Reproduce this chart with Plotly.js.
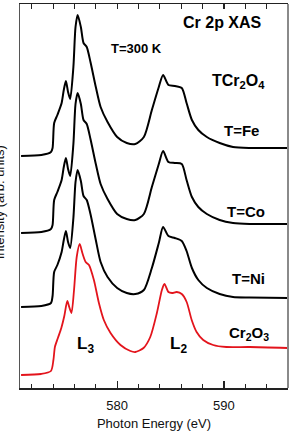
<!DOCTYPE html>
<html>
<head>
<meta charset="utf-8">
<script src="https://cdn.plot.ly/plotly-3.0.1.min.js"></script>
<style>
  html, body { margin: 0; padding: 0; background: #fff; }
  #chart { width: 291px; height: 431px; }
</style>
</head>
<body>
<div id="chart"></div>
<script>
// Photon energy grid (eV) for the TCr2O4 spectra
const energySpinel = [571.0, 572.9, 573.8, 573.95, 574.1, 574.4, 574.8, 575.0, 575.2, 575.4, 575.6, 575.9,
  576.1, 576.3, 576.6, 576.85, 577.15, 577.5, 578.0, 578.45, 579.1, 580.0, 580.9, 581.7, 582.5, 583.25,
  583.9, 584.3, 584.8, 585.4, 586.05, 586.5, 587.0, 587.6, 588.4, 589.6, 590.85, 592.4, 596.0];

// Stacked intensities (arb. units, vertically offset)
const intensityFe = [2.32, 2.33, 2.36, 2.40, 2.65, 2.73, 2.85, 2.98, 3.07, 2.96, 2.89, 3.21,
  3.61, 3.73, 3.61, 3.45, 3.41, 3.26, 3.01, 2.81, 2.66, 2.51, 2.45, 2.44, 2.51, 2.78,
  3.01, 3.13, 3.03, 3.02, 3.00, 2.85, 2.68, 2.58, 2.51, 2.45, 2.41, 2.40, 2.40];

const intensityCo = [1.55, 1.56, 1.59, 1.63, 1.88, 1.96, 2.08, 2.21, 2.30, 2.19, 2.12, 2.44,
  2.84, 2.95, 2.84, 2.68, 2.64, 2.49, 2.24, 2.04, 1.89, 1.74, 1.69, 1.68, 1.74, 2.01,
  2.24, 2.37, 2.26, 2.25, 2.24, 2.08, 1.91, 1.81, 1.74, 1.68, 1.65, 1.64, 1.64];

const intensityNi = [0.81, 0.82, 0.85, 0.92, 1.16, 1.23, 1.36, 1.48, 1.57, 1.46, 1.40, 1.70,
  2.06, 2.18, 2.07, 1.92, 1.88, 1.74, 1.48, 1.26, 1.11, 1.00, 0.95, 0.94, 0.98, 1.20,
  1.45, 1.61, 1.52, 1.50, 1.47, 1.37, 1.20, 1.08, 1.00, 0.94, 0.91, 0.905, 0.90];

// Cr2O3 reference spectrum
const energyCr2O3 = [571.0, 572.87, 573.8, 574.03, 574.17, 574.45, 574.77, 575.05, 575.33, 575.51, 575.72,
  575.96, 576.21, 576.49, 576.74, 577.05, 577.36, 577.82, 578.29, 578.75, 579.38, 580.31, 581.24,
  581.7, 582.47, 583.1, 583.72, 584.19, 584.43, 584.8, 585.14, 585.58, 586.05, 586.51, 586.98,
  587.44, 588.06, 588.99, 590.23, 592.4, 595.94];

const intensityCr2O3 = [0.13, 0.14, 0.17, 0.28, 0.41, 0.50, 0.60, 0.72, 0.87, 0.81, 0.75,
  0.98, 1.31, 1.44, 1.35, 1.26, 1.23, 1.08, 0.85, 0.68, 0.55, 0.43, 0.37,
  0.36, 0.40, 0.51, 0.75, 0.98, 1.04, 0.96, 0.95, 0.96, 0.94, 0.86, 0.68,
  0.56, 0.48, 0.43, 0.41, 0.41, 0.40];

const xTickVals = [580, 590];
const xTickText = ['580', '590'];
const energyRange = [570.9, 596.0];

const FONT = 'Liberation Sans, Arial, Helvetica, sans-serif';

function spectrum(x, y, color, width) {
  return {
    x: x, y: y, type: 'scatter', mode: 'lines',
    line: { color: color, width: width, shape: 'spline', smoothing: 0.7 },
    hoverinfo: 'skip', showlegend: false
  };
}

const traces = [
  spectrum(energySpinel, intensityFe, '#000', 2),
  spectrum(energySpinel, intensityCo, '#000', 2),
  spectrum(energySpinel, intensityNi, '#000', 2),
  spectrum(energyCr2O3, intensityCr2O3, '#e3141c', 1.8),
  // carrier for the top tick axis
  { x: energyRange, y: [null, null], xaxis: 'x2', yaxis: 'y', type: 'scatter', mode: 'lines',
    hoverinfo: 'skip', showlegend: false }
];

function label(text, x, y, size, extra) {
  return Object.assign({
    text: text, xref: 'paper', yref: 'paper', x: x, y: y,
    xanchor: 'center', yanchor: 'middle', showarrow: false,
    font: { family: FONT, size: size, color: '#000', weight: 'bold' }
  }, extra || {});
}

const layout = {
  width: 291, height: 431,
  margin: { l: 20, r: 3, t: 4, b: 43 },
  paper_bgcolor: '#fff', plot_bgcolor: '#fff',
  font: { family: FONT, color: '#000' },
  xaxis: {
    range: energyRange,
    showgrid: false, zeroline: false,
    showline: true, linecolor: '#222', linewidth: 1.5, mirror: false,
    ticks: 'inside', ticklen: 7, tickwidth: 1.2, tickcolor: '#222',
    tickvals: xTickVals, ticktext: xTickText,
    ticklabelstandoff: 5,
    tickfont: { family: FONT, size: 13, color: '#111' },
    minor: { dtick: 2, tick0: 570, ticks: 'inside', ticklen: 4, tickwidth: 1.2, tickcolor: '#222', showgrid: false },
    title: { text: 'Photon Energy (eV)', font: { family: FONT, size: 13, color: '#111' }, standoff: 8 }
  },
  xaxis2: {
    range: energyRange, overlaying: 'x', side: 'top', anchor: 'y',
    showgrid: false, zeroline: false, showticklabels: false,
    showline: true, linecolor: '#222', linewidth: 1.5,
    ticks: 'inside', ticklen: 5, tickwidth: 1.2, tickcolor: '#222',
    tick0: 570, dtick: 2
  },
  yaxis: {
    range: [0, 3.84],
    showgrid: false, zeroline: false, showticklabels: false, ticks: '',
    showline: true, linecolor: '#555', linewidth: 1.5, mirror: false
  },
  shapes: [
    { type: 'line', xref: 'paper', yref: 'paper', x0: 1, x1: 1, y0: 0, y1: 1,
      line: { color: '#8a8a8a', width: 2 } }
  ],
  annotations: [
    label('Cr 2p XAS', 0.754, 0.951, 16),
    label('T=300 K', 0.433, 0.883, 13),
    label('TCr<sub>2</sub>O<sub>4</sub>', 0.816, 0.798, 16),
    label('T=Fe', 0.827, 0.670, 15),
    label('T=Co', 0.845, 0.459, 15),
    label('T=Ni', 0.852, 0.284, 15),
    label('Cr<sub>2</sub>O<sub>3</sub>', 0.854, 0.142, 15),
    label('L<sub>3</sub>', 0.243, 0.113, 17),
    label('L<sub>2</sub>', 0.590, 0.113, 17),
    {
      text: 'Intensity (arb. units)', xref: 'paper', yref: 'paper', x: -0.078, y: 0.484,
      xanchor: 'center', yanchor: 'middle', textangle: -90, showarrow: false,
      font: { family: FONT, size: 13, color: '#111' }
    }
  ]
};

Plotly.newPlot('chart', traces, layout, { displayModeBar: false, staticPlot: true });
</script>
</body>
</html>
